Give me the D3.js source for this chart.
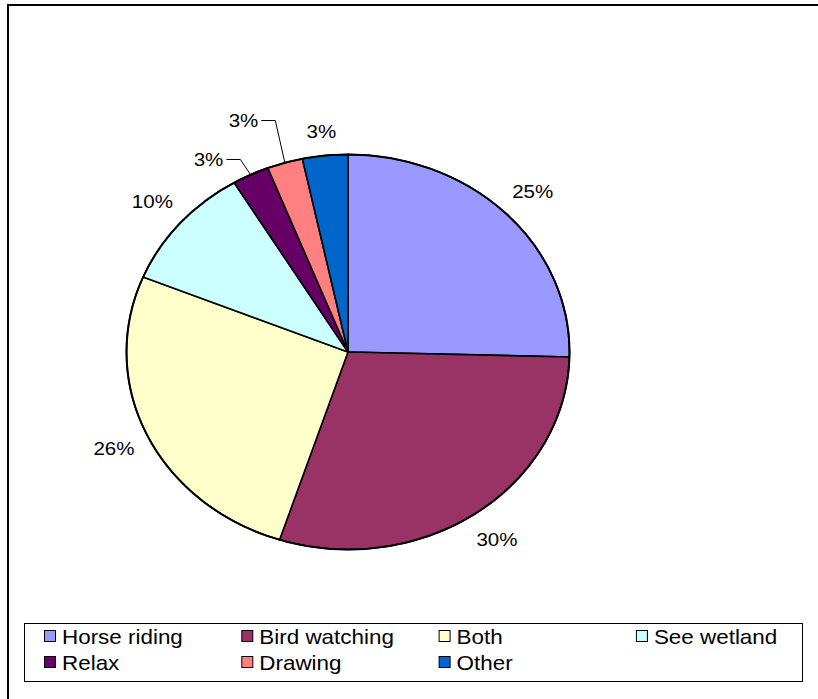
<!DOCTYPE html>
<html>
<head>
<meta charset="utf-8">
<script src="https://cdn.jsdelivr.net/npm/d3@7"></script>
<style>
  html, body { margin: 0; padding: 0; background: #fff; }
  svg { display: block; }
  text { font-family: "Liberation Sans", Arial, sans-serif; fill: #000; }
</style>
</head>
<body>
<svg id="chart" width="818" height="699"></svg>
<script>
// Reasons for visiting (share of respondents, %)
const categories = ["Horse riding", "Bird watching", "Both", "See wetland", "Relax", "Drawing", "Other"];
const shares     = [25.4, 29.6, 26.2, 10.2, 2.7, 2.6, 3.3];
const colors     = ["#9999FF", "#993366", "#FFFFCC", "#CCFFFF", "#660066", "#FF8080", "#0066CC"];

const svg = d3.select("#chart");
const W = 818, H = 699;

// Chart frame
svg.append("rect")
  .attr("x", 8).attr("y", 5)
  .attr("width", W).attr("height", H)
  .attr("fill", "#fff").attr("stroke", "#000").attr("stroke-width", 2);

// The pie is drawn as a circle and stretched horizontally
const cx = 348, cy = 352, R = 197.5, sx = 1.1215;
const labelR = 230;
const labelFont = 18.3;
const legendFont = 20;

const pie = d3.pie().sort(null).value(d => d.value)
  .startAngle(0).endAngle(2 * Math.PI);
const data = categories.map((c, i) => ({ name: c, value: shares[i], color: colors[i] }));
const arcs = pie(data);
const total = d3.sum(shares);
const fmt = v => d3.format(".0%")(v / total);

const arc = d3.arc().innerRadius(0).outerRadius(R);

const g = svg.append("g")
  .attr("transform", `translate(${cx},${cy}) scale(${sx},1)`);

g.selectAll("path.slice")
  .data(arcs)
  .enter().append("path")
  .attr("class", "slice")
  .attr("d", arc)
  .attr("fill", d => d.data.color)
  .attr("stroke", "#000")
  .attr("stroke-width", 1.6)
  .attr("stroke-linejoin", "round")
  .attr("vector-effect", "non-scaling-stroke");

// outline around the whole pie
g.append("circle")
  .attr("r", R).attr("fill", "none")
  .attr("stroke", "#000").attr("stroke-width", 2)
  .attr("vector-effect", "non-scaling-stroke");

// Map a polar point (angle from 12 o'clock, radius) into page space
const toPage = (a, r) => [cx + sx * r * Math.sin(a), cy - r * Math.cos(a)];

// Labels of the small slices near the top are moved apart;
// the two pulled furthest get a leader line back to their slice
const labelShift = { "Relax": [-26, 14], "Drawing": [-31, -11], "Other": [0, 8] };
const withLeader = new Set(["Relax", "Drawing"]);

const labels = svg.append("g");
arcs.forEach(d => {
  const mid = (d.startAngle + d.endAngle) / 2;
  let [x, y] = toPage(mid, labelR);
  const shift = labelShift[d.data.name];
  if (shift) { x += shift[0]; y += shift[1]; }

  const t = labels.append("text")
    .attr("transform", `translate(${x},${y}) scale(${sx},1)`)
    .attr("text-anchor", "middle")
    .attr("dy", "0.35em")
    .attr("font-size", labelFont)
    .text(fmt(d.value));

  if (withLeader.has(d.data.name)) {
    const half = t.node().getComputedTextLength() * sx / 2;
    const x0 = x + half + 3, x1 = x0 + 14;
    const edge = toPage(mid, R);
    labels.append("path")
      .attr("d", d3.line()([[x0, y], [x1, y], edge]))
      .attr("fill", "none").attr("stroke", "#000").attr("stroke-width", 1);
  }
});

// Legend
const legend = svg.append("g");
legend.append("rect")
  .attr("x", 24.5).attr("y", 623.5)
  .attr("width", 778).attr("height", 58)
  .attr("fill", "#fff").attr("stroke", "#000").attr("stroke-width", 1);

const perRow = 4, colStart = 44, colStep = 197.3, rowStart = 636, rowStep = 26;
const items = legend.selectAll("g.item")
  .data(data)
  .enter().append("g")
  .attr("class", "item")
  .attr("transform", (d, i) =>
    `translate(${colStart + (i % perRow) * colStep},${rowStart + Math.floor(i / perRow) * rowStep})`);

items.append("rect")
  .attr("x", 0.5).attr("y", -5.5)
  .attr("width", 11).attr("height", 11)
  .attr("fill", d => d.color)
  .attr("stroke", "#000").attr("stroke-width", 1);

items.append("text")
  .attr("transform", `translate(18,0.5) scale(${sx},1)`)
  .attr("dy", "0.35em")
  .attr("font-size", legendFont)
  .text(d => d.name);
</script>
</body>
</html>
